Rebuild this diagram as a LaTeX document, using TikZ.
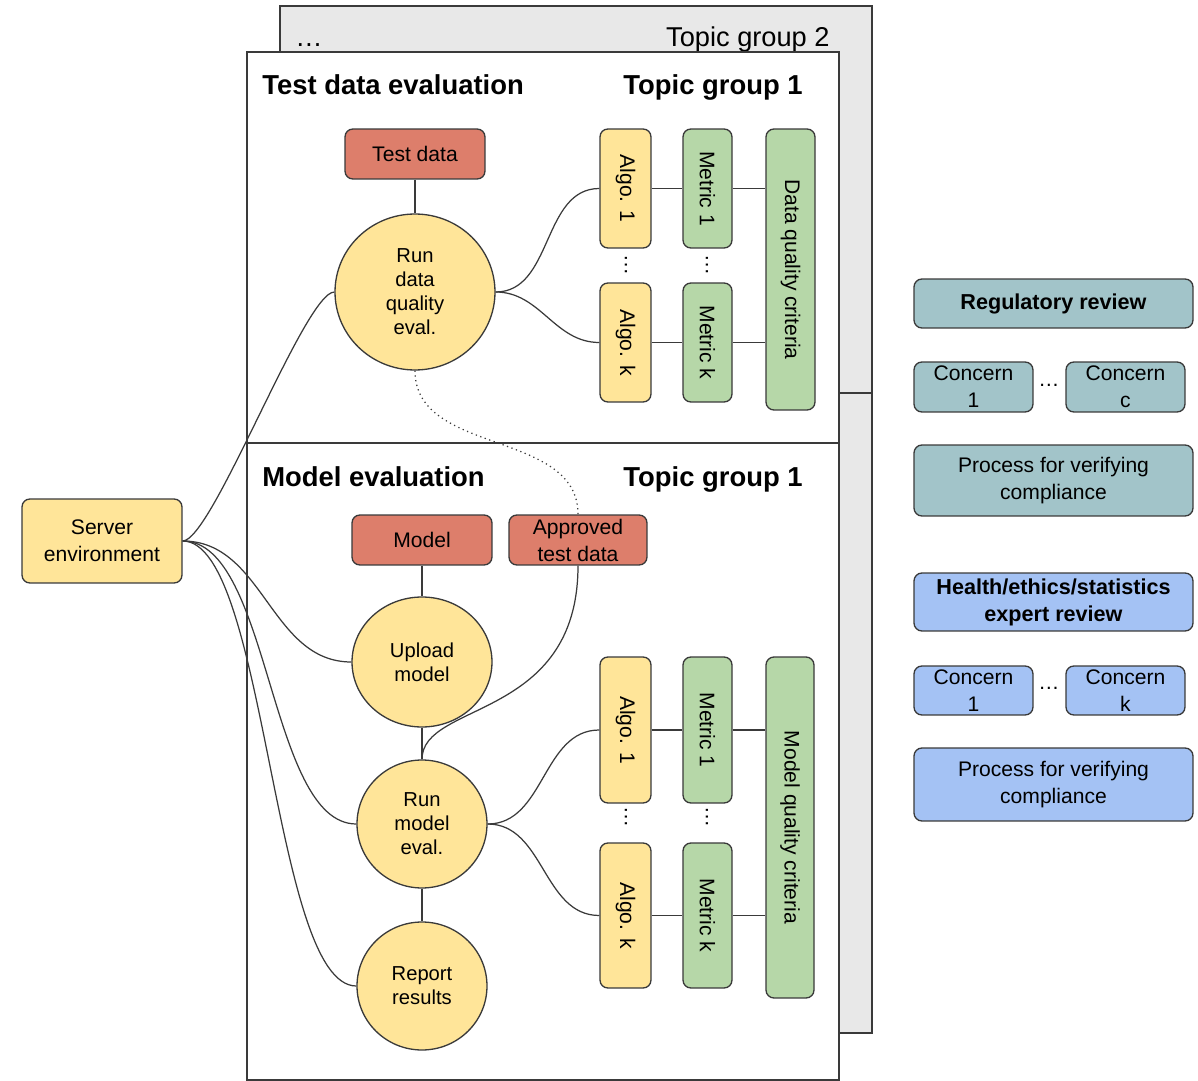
\documentclass[tikz,border=0pt]{standalone}
\usepackage{fontspec}
\setmainfont{Liberation Sans}
\usetikzlibrary{shapes.geometric}

\definecolor{linec}{HTML}{3A3A3A}
\definecolor{yell}{HTML}{FFE599}
\definecolor{redb}{HTML}{DD7E6B}
\definecolor{gren}{HTML}{B6D7A8}
\definecolor{cyanb}{HTML}{A2C4C9}
\definecolor{blueb}{HTML}{A4C2F4}
\definecolor{backg}{HTML}{E8E8E8}

\tikzset{
  stage/.style={draw=linec, line width=0.75pt, rounded corners=4.5pt, align=center,
    inner sep=0pt, font=\fontsize{12}{15.4}\selectfont},
  task/.style={ellipse, draw=linec, line width=0.75pt, fill=yell, align=center,
    inner sep=0pt, font=\fontsize{11.5}{13.7}\selectfont},
  head/.style={inner sep=0pt, font=\bfseries\fontsize{15.6}{18}\selectfont},
  link/.style={draw=linec, line width=0.7pt},
}

\begin{document}
\begin{tikzpicture}[x=0.02cm, y=-0.02cm]
    \useasboundingbox (0,0) rectangle (1198,1081);
    % topic group 2 behind
    \draw[linec, line width=0.75pt, fill=backg] (280,6) rectangle (872,1033);
    \draw[linec, line width=0.75pt] (280,393) -- (872,393);
    \node[anchor=base west, inner sep=0pt, font=\fontsize{15.5}{18}\selectfont] (more) at (295,47) {…};
    \node[anchor=base east, inner sep=0pt, font=\fontsize{15.5}{18}\selectfont] (tgtwo) at (830,47) {Topic group 2};
    % topic group 1
    \draw[linec, line width=0.75pt, fill=white] (247,52) rectangle (839,1080);
    \draw[linec, line width=0.75pt] (247,443) -- (839,443);
    \node[head, anchor=base west] (hdata) at (262,95) {Test data evaluation};
    \node[head, anchor=base east] (tgdata) at (803,95) {Topic group 1};
    \node[head, anchor=base west] (hmodel) at (262,486) {Model evaluation};
    \node[head, anchor=base east] (tgmodel) at (803,486) {Topic group 1};

    % test data evaluation
    \node[stage, fill=redb, minimum width=2.8cm, minimum height=1cm] (tdata) at (415,154) {Test data};
    \node[task, minimum width=3.2cm, minimum height=3.12cm] (rdq) at (415,292) {Run\\data\\quality\\eval.};
    \node[stage, fill=yell, minimum width=1.02cm, minimum height=2.38cm] (da1) at (625.5,188.5) {\rotatebox{-90}{Algo. 1}};
    \node[stage, fill=yell, minimum width=1.02cm, minimum height=2.38cm] (dak) at (625.5,342.5) {\rotatebox{-90}{Algo. k}};
    \node[stage, fill=gren, minimum width=0.98cm, minimum height=2.38cm] (dm1) at (707.5,188.5) {\rotatebox{-90}{Metric 1}};
    \node[stage, fill=gren, minimum width=0.98cm, minimum height=2.38cm] (dmk) at (707.5,342.5) {\rotatebox{-90}{Metric k}};
    \node[stage, fill=gren, minimum width=0.98cm, minimum height=5.62cm] (dqc) at (790.5,269.5) {\rotatebox{-90}{Data quality criteria}};
    \node[inner sep=0pt, font=\fontsize{12}{14}\selectfont] (dadots) at (626,265) {\rotatebox{-90}{…}};
    \node[inner sep=0pt, font=\fontsize{12}{14}\selectfont] (dmdots) at (707,265) {\rotatebox{-90}{…}};

    \draw[link] (tdata) -- (rdq);
    \draw[link] (rdq.east) to[out=0,in=180] (da1.west);
    \draw[link] (rdq.east) to[out=0,in=180] (dak.west);
    \draw[link] (da1) -- (dm1);
    \draw[link] (dak) -- (dmk);
    \draw[link] (dm1.east) -- (dm1.east -| dqc.west);
    \draw[link] (dmk.east) -- (dmk.east -| dqc.west);

    % model evaluation
    \node[stage, fill=redb, minimum width=2.8cm, minimum height=1cm] (model) at (422,540) {Model};
    \node[stage, fill=redb, minimum width=2.76cm, minimum height=1cm] (appr) at (578,540) {Approved\\test data};
    \node[task, minimum width=2.8cm, minimum height=2.6cm] (upl) at (422,662) {Upload\\model};
    \node[task, minimum width=2.6cm, minimum height=2.56cm] (rme) at (422,824) {Run\\model\\eval.};
    \node[task, minimum width=2.6cm, minimum height=2.56cm] (rep) at (422,986) {Report\\results};
    \node[stage, fill=yell, minimum width=1.02cm, minimum height=2.92cm] (ma1) at (625.5,730) {\rotatebox{-90}{Algo. 1}};
    \node[stage, fill=yell, minimum width=1.02cm, minimum height=2.9cm] (mak) at (625.5,915.5) {\rotatebox{-90}{Algo. k}};
    \node[stage, fill=gren, minimum width=0.98cm, minimum height=2.92cm] (mm1) at (707.5,730) {\rotatebox{-90}{Metric 1}};
    \node[stage, fill=gren, minimum width=0.98cm, minimum height=2.9cm] (mmk) at (707.5,915.5) {\rotatebox{-90}{Metric k}};
    \node[stage, fill=gren, minimum width=0.96cm, minimum height=6.82cm] (mqc) at (790,827.5) {\rotatebox{-90}{Model quality criteria}};
    \node[inner sep=0pt, font=\fontsize{12}{14}\selectfont] (madots) at (626,817) {\rotatebox{-90}{…}};
    \node[inner sep=0pt, font=\fontsize{12}{14}\selectfont] (mmdots) at (707,817) {\rotatebox{-90}{…}};

    \draw[link] (model) -- (upl);
    \draw[link] (upl) -- (rme);
    \draw[link] (rme) -- (rep);
    \draw[link] (appr.south) to[out=-90,in=90,out looseness=1.6,in looseness=0.6] (rme.north);
    \draw[link, dotted] (rdq.south) to[out=-90,in=90] (appr.north);
    \draw[link] (rme.east) to[out=0,in=180] (ma1.west);
    \draw[link] (rme.east) to[out=0,in=180] (mak.west);
    \draw[link] (ma1) -- (mm1);
    \draw[link] (mak) -- (mmk);
    \draw[link] (mm1.east) -- (mm1.east -| mqc.west);
    \draw[link] (mmk.east) -- (mmk.east -| mqc.west);

    % server
    \node[stage, fill=yell, minimum width=3.2cm, minimum height=1.68cm] (srv) at (102,541) {Server\\environment};
    \draw[link] (srv.east) to[out=0,in=180,looseness=0.26] (rdq.west);
    \draw[link] (srv.east) to[out=0,in=180] (upl.west);
    \draw[link] (srv.east) to[out=0,in=180,looseness=0.68] (rme.west);
    \draw[link] (srv.east) to[out=0,in=180,looseness=0.45] (rep.west);

    % reviews
    \node[stage, fill=cyanb, minimum width=5.58cm, minimum height=0.98cm, font=\bfseries\fontsize{12.3}{15.4}\selectfont] (regrev) at (1053.5,303.5) {Regulatory review};
    \node[stage, fill=cyanb, minimum width=2.38cm, minimum height=1cm] (rc1) at (973.5,387) {Concern\\1};
    \node[stage, fill=cyanb, minimum width=2.38cm, minimum height=1cm] (rcc) at (1125.5,387) {Concern\\c};
    \node[inner sep=0pt, font=\fontsize{12}{14}\selectfont] (rdots) at (1049,385) {…};
    \node[stage, fill=cyanb, minimum width=5.58cm, minimum height=1.42cm] (rproc) at (1053.5,480.5) {Process for verifying\\compliance};

    \node[stage, fill=blueb, minimum width=5.58cm, minimum height=1.16cm, font=\bfseries\fontsize{12.3}{15.4}\selectfont] (exrev) at (1053.5,602) {Health/ethics/statistics\\expert review};
    \node[stage, fill=blueb, minimum width=2.38cm, minimum height=0.98cm] (ec1) at (973.5,690.5) {Concern\\1};
    \node[stage, fill=blueb, minimum width=2.38cm, minimum height=0.98cm] (eck) at (1125.5,690.5) {Concern\\k};
    \node[inner sep=0pt, font=\fontsize{12}{14}\selectfont] (edots) at (1049,688) {…};
    \node[stage, fill=blueb, minimum width=5.58cm, minimum height=1.46cm] (eproc) at (1053.5,784.5) {Process for verifying\\compliance};
\end{tikzpicture}
\end{document}
